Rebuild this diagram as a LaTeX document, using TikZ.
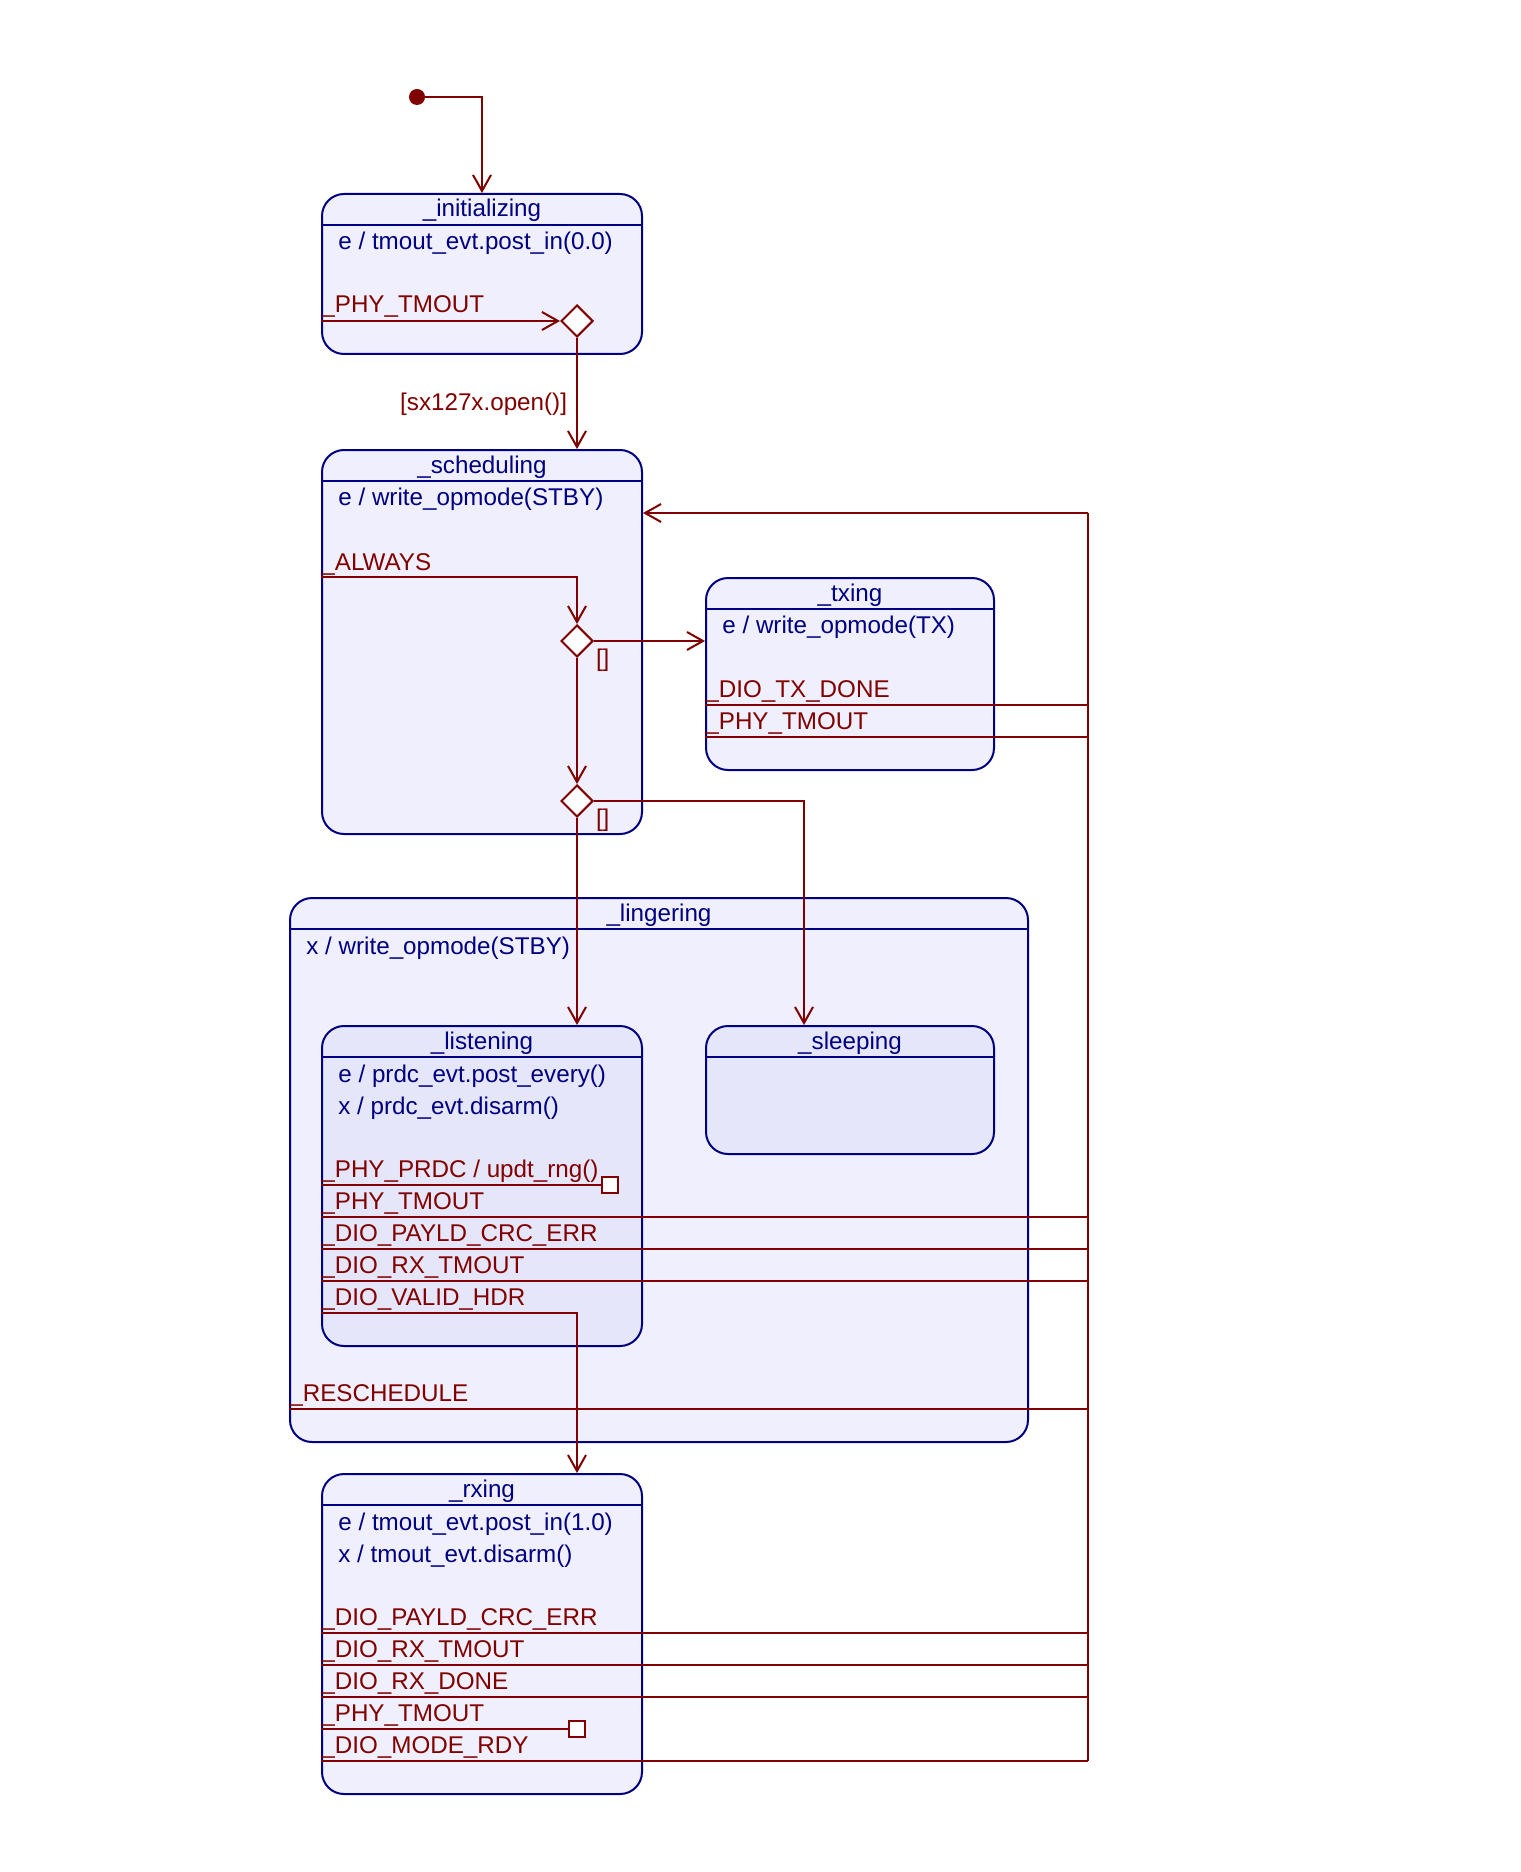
\documentclass[tikz,border=0pt]{standalone}
\usepackage{fontspec}
\setmainfont{Liberation Sans}
\usetikzlibrary{calc,arrows.meta,shapes.geometric}

\definecolor{statedraw}{HTML}{000080}
\definecolor{statefill}{HTML}{EFEFFD}
\definecolor{substatefill}{HTML}{E6E6FA}
\definecolor{transdraw}{HTML}{800000}

\tikzset{
  state/.style={rectangle, draw=statedraw, fill=statefill, line width=1pt, rounded corners=11pt, anchor=north west, inner sep=0pt},
  substate/.style={state, fill=substatefill},
  divider/.style={draw=statedraw, line width=1pt},
  title-text/.style={text=statedraw, font=\fontsize{12.1}{14}\selectfont, anchor=base, inner sep=0pt},
  action-text/.style={text=statedraw, font=\fontsize{12.1}{14}\selectfont, anchor=base west, inner sep=0pt},
  trig-text/.style={text=transdraw, font=\fontsize{12.1}{14}\selectfont, anchor=base west, inner sep=0pt},
  guard-text/.style={text=transdraw, font=\fontsize{12.1}{14}\selectfont, inner sep=0pt},
  trans/.style={draw=transdraw, line width=1pt},
  choice/.style={diamond, draw=transdraw, fill=white, line width=1pt, minimum size=16pt, inner sep=0pt},
  internal/.style={rectangle, draw=transdraw, fill=white, line width=1pt, minimum size=8pt, inner sep=0pt},
  initial/.style={circle, fill=transdraw, minimum size=8pt, inner sep=0pt},
}

\begin{document}
\begin{tikzpicture}[x=0.5pt, y=-0.5pt, >={Straight Barb[length=8pt,width=9pt]}]
\useasboundingbox (0,0) rectangle (1520,1872);

% states
\path (321,193) node[state, minimum width=160pt, minimum height=80pt](initializing) {};
\path (321,449) node[state, minimum width=160pt, minimum height=192pt](scheduling) {};
\path (705,577) node[state, minimum width=144pt, minimum height=96pt](txing) {};
\path (289,897) node[state, minimum width=369pt, minimum height=272pt](lingering) {};
\path (321,1025) node[substate, minimum width=160pt, minimum height=160pt](listening) {};
\path (705,1025) node[substate, minimum width=144pt, minimum height=64pt](sleeping) {};
\path (321,1473) node[state, minimum width=160pt, minimum height=160pt](rxing) {};

\foreach \s in {initializing, scheduling, txing, lingering, listening, sleeping, rxing}
  \draw[divider] ($(\s.north west)+(0,32)$) -- ($(\s.north east)+(0,32)$);

\path (initializing.north) ++(0,24) node[title-text] {\_initializing};
\path (scheduling.north) ++(0,24) node[title-text] {\_scheduling};
\path (txing.north) ++(0,24) node[title-text] {\_txing};
\path (lingering.north) ++(0,24) node[title-text] {\_lingering};
\path (listening.north) ++(0,24) node[title-text] {\_listening};
\path (sleeping.north) ++(0,24) node[title-text] {\_sleeping};
\path (rxing.north) ++(0,24) node[title-text] {\_rxing};

% entry / exit actions
\path (338,250) node[action-text] {e / tmout\_evt.post\_in(0.0)};
\path (338,505) node[action-text] {e / write\_opmode(STBY)};
\path (722,633) node[action-text] {e / write\_opmode(TX)};
\path (306,954) node[action-text] {x / write\_opmode(STBY)};
\path (338,1082) node[action-text] {e / prdc\_evt.post\_every()};
\path (338,1114) node[action-text] {x / prdc\_evt.disarm()};
\path (338,1530) node[action-text] {e / tmout\_evt.post\_in(1.0)};
\path (338,1562) node[action-text] {x / tmout\_evt.disarm()};

% triggers
\path (321,313) node[trig-text] {\_PHY\_TMOUT};
\path (321,570) node[trig-text] {\_ALWAYS};
\path (705,697) node[trig-text] {\_DIO\_TX\_DONE};
\path (705,729) node[trig-text] {\_PHY\_TMOUT};
\path (321,1177) node[trig-text] {\_PHY\_PRDC / updt\_rng()};
\path (321,1209) node[trig-text] {\_PHY\_TMOUT};
\path (321,1241) node[trig-text] {\_DIO\_PAYLD\_CRC\_ERR};
\path (321,1273) node[trig-text] {\_DIO\_RX\_TMOUT};
\path (321,1305) node[trig-text] {\_DIO\_VALID\_HDR};
\path (289,1401) node[trig-text] {\_RESCHEDULE};
\path (321,1625) node[trig-text] {\_DIO\_PAYLD\_CRC\_ERR};
\path (321,1657) node[trig-text] {\_DIO\_RX\_TMOUT};
\path (321,1689) node[trig-text] {\_DIO\_RX\_DONE};
\path (321,1721) node[trig-text] {\_PHY\_TMOUT};
\path (321,1753) node[trig-text] {\_DIO\_MODE\_RDY};

% pseudo states
\path (417,97) node[initial](init-dot) {};
\path (577,321) node[choice](choice-init) {};
\path (577,641) node[choice](choice-sched-a) {};
\path (577,801) node[choice](choice-sched-b) {};
\path (610,1185) node[internal](listen-prdc-box) {};
\path (577,1729) node[internal](rx-tmout-box) {};

\coordinate (init-tmout) at (321,321);
\coordinate (sched-always) at (321,577);
\coordinate (tx-done) at (705,705);
\coordinate (tx-tmout) at (705,737);
\coordinate (listen-prdc) at (321,1185);
\coordinate (listen-tmout) at (321,1217);
\coordinate (listen-crc) at (321,1249);
\coordinate (listen-rxtmout) at (321,1281);
\coordinate (listen-valid) at (321,1313);
\coordinate (linger-resched) at (289,1409);
\coordinate (rx-crc) at (321,1633);
\coordinate (rx-rxtmout) at (321,1665);
\coordinate (rx-done) at (321,1697);
\coordinate (rx-tmout) at (321,1729);
\coordinate (rx-mode) at (321,1761);
\coordinate (bus-top) at (1088,513);
\coordinate (bus-bottom) at (1088,1761);

% transitions
\draw[trans,->] (init-dot) -| (initializing.north);
\draw[trans,->] (init-tmout) -- (choice-init);
\draw[trans,->] (choice-init) -- (choice-init |- scheduling.north) node[guard-text, pos=0.65, anchor=base east, xshift=-4.5pt] {[sx127x.open()]};
\draw[trans,->] (sched-always) -| (choice-sched-a);
\draw[trans,->] (choice-sched-a) -- (choice-sched-a -| txing.west) node[guard-text, pos=0, anchor=base west, xshift=0.5pt, yshift=-12.5pt] {[]};
\draw[trans,->] (choice-sched-a) -- (choice-sched-b);
\draw[trans,->] (choice-sched-b) -- (choice-sched-b |- listening.north);
\draw[trans,->] (choice-sched-b) -| ($(sleeping.north)+(-46,0)$) node[guard-text, pos=0, anchor=base west, xshift=0.5pt, yshift=-12.5pt] {[]};

\draw[trans] (listen-prdc) -- (listen-prdc-box);
\draw[trans] (rx-tmout) -- (rx-tmout-box);
\draw[trans,->] (listen-valid) -| (choice-sched-b |- rxing.north);

\foreach \c in {tx-done, tx-tmout, listen-tmout, listen-crc, listen-rxtmout, linger-resched, rx-crc, rx-rxtmout, rx-done, rx-mode}
  \draw[trans] (\c) -- (\c -| bus-top);
\draw[trans] (bus-bottom) -- (bus-top);
\draw[trans,->] (bus-top) -- (bus-top -| scheduling.east);

\end{tikzpicture}
\end{document}
